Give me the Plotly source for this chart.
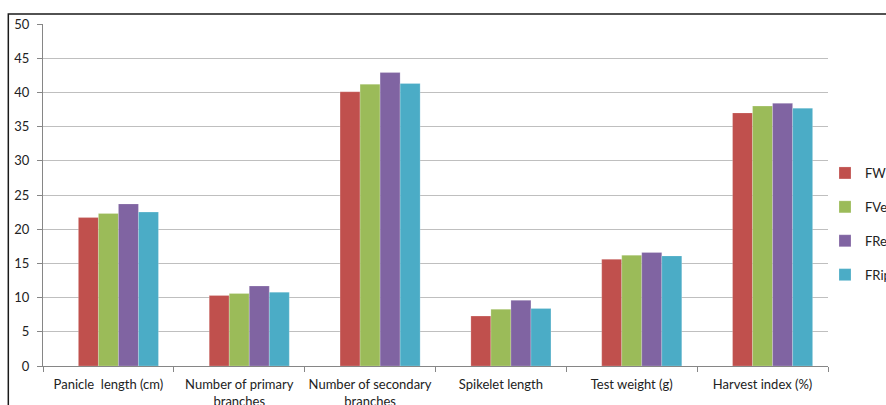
import plotly.graph_objects as go

# Panicle and yield traits under four treatments
categories = [
    "Panicle  length (cm)",
    "Number of primary<br>branches",
    "Number of secondary<br>branches",
    "Spikelet length",
    "Test weight (g)",
    "Harvest index (%)",
]
series_names = ["FW", "FVeg", "FRep", "FRipe"]
fw = [21.7, 10.3, 40.1, 7.3, 15.6, 37.0]
fveg = [22.3, 10.6, 41.2, 8.3, 16.2, 38.0]
frep = [23.7, 11.7, 42.9, 9.6, 16.6, 38.4]
fripe = [22.5, 10.8, 41.3, 8.4, 16.1, 37.7]
y_ticks = [0, 5, 10, 15, 20, 25, 30, 35, 40, 45, 50]

colors = ["#C0504D", "#9BBB59", "#8064A2", "#4BACC6"]
font_family = "Lato, 'Open Sans', sans-serif"

W, H = 886, 405
L, R, T, B = 42.7, 828, 24, 366

fig = go.Figure()

# empty leading series keeps the clusters in the five-slot layout
fig.add_trace(go.Bar(x=categories, y=[None] * len(categories),
                     showlegend=False, hoverinfo="skip"))

for name, vals, col in zip(series_names, [fw, fveg, frep, fripe], colors):
    fig.add_trace(go.Bar(
        x=categories, y=vals, name=name, legendgroup=name,
        marker=dict(color=col, line=dict(color="rgba(255,255,255,0.35)", width=0.6)),
    ))

fig.update_layout(
    width=W, height=H, autosize=False,
    margin=dict(l=L, r=W - R, t=T, b=H - B, pad=0, autoexpand=False),
    paper_bgcolor="white", plot_bgcolor="white",
    barmode="group", bargap=0.235, bargroupgap=0,
    font=dict(family=font_family, size=13, color="#222"),
    legend=dict(
        x=(825 - L) / (R - L), xanchor="left",
        y=(B - 224) / (B - T), yanchor="middle",
        font=dict(family=font_family, size=13, color="#222"),
        tracegroupgap=14, bgcolor="rgba(0,0,0,0)",
    ),
    showlegend=True,
)

fig.update_xaxes(
    type="category", tickson="boundaries",
    ticks="outside", ticklen=5, tickcolor="#868686",
    showline=True, linecolor="#868686", linewidth=1,
    showgrid=False, tickfont=dict(size=13, color="#222"),
    tickangle=0, automargin=False, ticklabelstandoff=6,
)
fig.update_yaxes(
    range=[0, 50], tickvals=y_ticks,
    ticks="outside", ticklen=5, tickcolor="#868686",
    showline=True, linecolor="#868686", linewidth=1,
    showgrid=True, gridcolor="#BFBFBF", gridwidth=1,
    zeroline=False, tickfont=dict(size=13, color="#222"),
    automargin=False, ticklabelstandoff=5,
)

# chart frame
fig.add_shape(
    type="rect", xref="paper", yref="paper",
    x0=(8 - L) / (R - L), x1=1.3,
    y0=-0.3, y1=1 + (T - 14) / (B - T),
    line=dict(color="#1a1a1a", width=1.5), fillcolor="rgba(0,0,0,0)",
    layer="below",
)

fig.write_html("out.html")
